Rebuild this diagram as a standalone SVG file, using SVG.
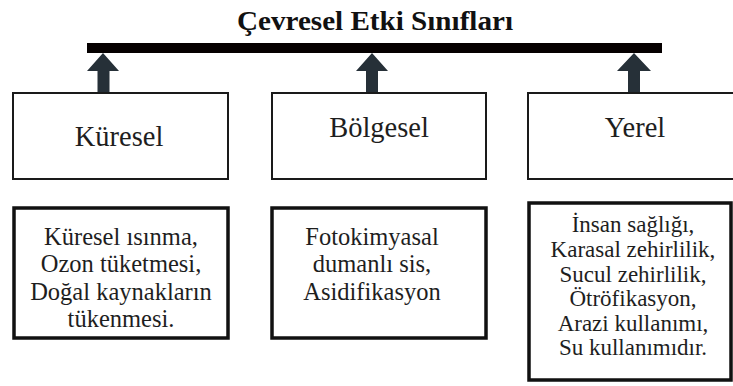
<svg xmlns="http://www.w3.org/2000/svg" width="733" height="386" viewBox="0 0 733 386">
  <defs>
    <style>
      .title { font-family: "Liberation Serif", "DejaVu Serif", serif; font-weight: bold; font-size: 28px; fill: #111; }
      .head { font-family: "Liberation Serif", "DejaVu Serif", serif; font-size: 28.5px; fill: #1e1e1e; text-anchor: middle; }
      .body { font-family: "Liberation Serif", "DejaVu Serif", serif; font-size: 24.5px; fill: #1e1e1e; text-anchor: middle; }
      .tight { font-size: 23px; }
      .box1 { fill: #fff; stroke: #1a1a1a; stroke-width: 2; }
      .box2 { fill: #fff; stroke: #111; stroke-width: 3.5; }
      .arrow { fill: #263038; }
    </style>
  </defs>
  <rect width="733" height="386" fill="#fff"/>
  <text class="title" x="237" y="30" textLength="276" lengthAdjust="spacingAndGlyphs">Çevresel Etki Sınıfları</text>
  <rect x="87" y="43" width="575" height="10" fill="#050000"/>
  <g id="connectors">
    <path class="arrow" d="M103,53 L119,71 L109.5,71 L109.5,92 L97.5,92 L97.5,71 L87,71 Z"/>
    <path class="arrow" d="M372,53 L388,71 L378,71 L378,92 L366,92 L366,71 L356,71 Z"/>
    <path class="arrow" d="M634,53 L651,71 L640,71 L640,92 L628,92 L628,71 L617,71 Z"/>
  </g>
  <g id="kuresel">
    <rect class="box1" x="13" y="93" width="215" height="86"/>
    <text class="head" x="119" y="146">Küresel</text>
  </g>
  <g id="bolgesel">
    <rect class="box1" x="272" y="93" width="214" height="86"/>
    <text class="head" x="379" y="137">Bölgesel</text>
  </g>
  <g id="yerel">
    <rect class="box1" x="528" y="93" width="210" height="86"/>
    <text class="head" x="635" y="137">Yerel</text>
  </g>
  <g id="kuresel-etkiler">
    <rect class="box2" x="14" y="208" width="214" height="130"/>
    <text class="body" x="121" y="245">Küresel ısınma,</text>
    <text class="body" x="121" y="272">Ozon tüketmesi,</text>
    <text class="body" x="121" y="300">Doğal kaynakların</text>
    <text class="body" x="121" y="327">tükenmesi.</text>
  </g>
  <g id="bolgesel-etkiler">
    <rect class="box2" x="272" y="208" width="214" height="130"/>
    <text class="body" x="372" y="245">Fotokimyasal</text>
    <text class="body" x="372" y="272">dumanlı sis,</text>
    <text class="body" x="372" y="300">Asidifikasyon</text>
  </g>
  <g id="yerel-etkiler">
    <rect class="box2" x="529" y="203" width="202" height="177"/>
    <text class="body tight" x="633" y="232">İnsan sağlığı,</text>
    <text class="body tight" x="633" y="257">Karasal zehirlilik,</text>
    <text class="body tight" x="633" y="281.5">Sucul zehirlilik,</text>
    <text class="body tight" x="633" y="306">Ötröfikasyon,</text>
    <text class="body tight" x="633" y="330.5">Arazi kullanımı,</text>
    <text class="body tight" x="633" y="355">Su kullanımıdır.</text>
  </g>
</svg>
